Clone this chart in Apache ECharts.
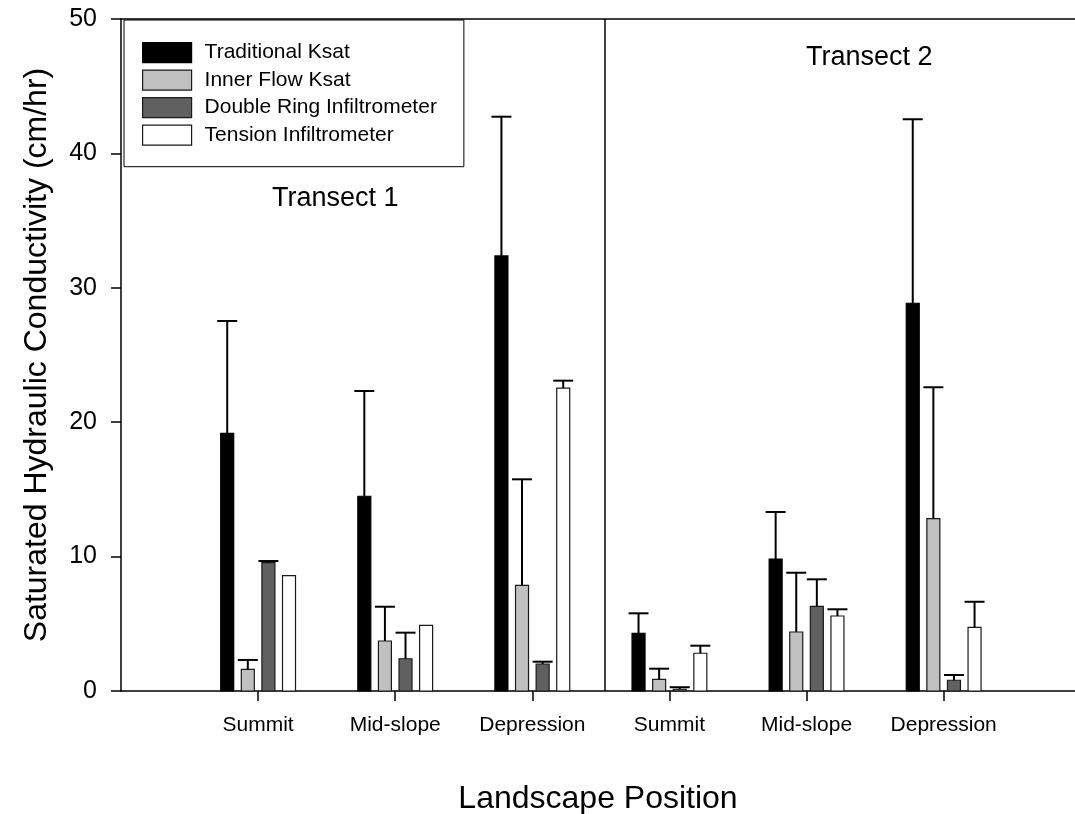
<!DOCTYPE html>
<html>
<head>
<meta charset="utf-8">
<script src="https://cdn.jsdelivr.net/npm/echarts@6/dist/echarts.min.js"></script>
<style>
  html, body { margin: 0; padding: 0; background: #fff; }
  #chart { width: 1075px; height: 814px; }
</style>
</head>
<body>
<div id="chart"></div>
<script>
// Landscape positions along the two transects (x positions 1..6)
const positions = [1, 2, 3, 4, 5, 6];
const positionLabels = ['Summit', 'Mid-slope', 'Depression', 'Summit', 'Mid-slope', 'Depression'];

// Mean saturated hydraulic conductivity (cm/hr)
const traditionalKsat = [19.17, 14.49, 32.37, 4.29, 9.82, 28.85];
const innerFlowKsat   = [1.61, 3.72, 7.86, 0.87, 4.39, 12.82];
const doubleRing      = [9.55, 2.40, 2.01, 0.13, 6.30, 0.80];
const tensionInf      = [8.58, 4.89, 22.54, 2.81, 5.58, 4.74];

// Upper error (standard deviation), cm/hr
const traditionalErr = [8.36, 7.83, 10.36, 1.49, 3.50, 13.69];
const innerFlowErr   = [0.70, 2.55, 7.89, 0.79, 4.41, 9.78];
const doubleRingErr  = [0.12, 1.94, 0.17, 0.15, 2.01, 0.39];
const tensionErr     = [0, 0, 0.55, 0.56, 0.50, 1.90];

const yTicks = [0, 10, 20, 30, 40, 50];
const transectDivide = 3.53;

const FONT = '"Liberation Sans", Arial, Helvetica, sans-serif';
const BAR_W = 13;
const BAR_PITCH = 20.6;
const CAP_W = 20;

function buildData(means, errs) {
  return positions.map((p, i) => [p, means[i], errs[i]]);
}

function makeRenderer(slot, fill, stroke) {
  return function (params, api) {
    const x = api.value(0);
    const mean = api.value(1);
    const err = api.value(2);
    const base = api.coord([x, 0]);
    const top = api.coord([x, mean]);
    const cx = base[0] + slot * BAR_PITCH;
    const children = [{
      type: 'rect',
      shape: { x: cx - BAR_W / 2, y: top[1], width: BAR_W, height: base[1] - top[1] },
      style: { fill: fill, stroke: stroke, lineWidth: 1.2 }
    }];
    if (err > 0) {
      const capY = api.coord([x, mean + err])[1];
      children.push({
        type: 'line',
        shape: { x1: cx, y1: top[1], x2: cx, y2: capY },
        style: { stroke: '#000', lineWidth: 2 }
      });
      children.push({
        type: 'line',
        shape: { x1: cx - CAP_W / 2, y1: capY, x2: cx + CAP_W / 2, y2: capY },
        style: { stroke: '#000', lineWidth: 2 }
      });
    }
    return { type: 'group', children: children };
  };
}

const seriesDefs = [
  { name: 'Traditional Ksat', means: traditionalKsat, errs: traditionalErr, fill: '#000000', stroke: '#000000', slot: -1.5 },
  { name: 'Inner Flow Ksat', means: innerFlowKsat, errs: innerFlowErr, fill: '#c0c0c0', stroke: '#1a1a1a', slot: -0.5 },
  { name: 'Double Ring Infiltrometer', means: doubleRing, errs: doubleRingErr, fill: '#606060', stroke: '#1a1a1a', slot: 0.5 },
  { name: 'Tension Infiltrometer', means: tensionInf, errs: tensionErr, fill: '#ffffff', stroke: '#1a1a1a', slot: 1.5 }
];

const series = seriesDefs.map((d, idx) => {
  const s = {
    name: d.name,
    type: 'custom',
    renderItem: makeRenderer(d.slot, d.fill, d.stroke),
    encode: { x: 0, y: 1 },
    itemStyle: { color: d.fill, borderColor: d.stroke, borderWidth: 1 },
    data: buildData(d.means, d.errs),
    clip: false,
    silent: true,
    z: 3
  };
  if (idx === 0) {
    // vertical rule separating transect 1 from transect 2
    s.markLine = {
      silent: true,
      symbol: ['none', 'none'],
      label: { show: false },
      lineStyle: { color: '#000', width: 1.5, type: 'solid' },
      data: [{ xAxis: transectDivide }]
    };
  }
  return s;
});

const chart = echarts.init(document.getElementById('chart'), null, { renderer: 'canvas' });

chart.setOption({
  animation: false,
  backgroundColor: '#ffffff',
  textStyle: { fontFamily: FONT, color: '#000' },
  grid: { left: 121, top: 19, right: 0, bottom: 123, containLabel: false, outerBoundsMode: 'none' },
  legend: {
    orient: 'vertical',
    left: 124,
    top: 20,
    itemWidth: 49,
    itemHeight: 20,
    itemGap: 6.3,
    padding: [22, 27, 21, 18],
    borderColor: '#000',
    borderWidth: 1,
    backgroundColor: '#fff',
    selectedMode: false,
    textStyle: { fontFamily: FONT, fontSize: 21, color: '#000', padding: [0, 0, 0, 8] },
    data: seriesDefs.map(d => ({
      name: d.name,
      icon: 'rect',
      itemStyle: { color: d.fill, borderColor: d.stroke, borderWidth: 1.2 }
    }))
  },
  xAxis: [{
    type: 'value',
    min: 0,
    max: 6.958,
    name: 'Landscape Position',
    nameLocation: 'middle',
    nameGap: 92,
    nameTextStyle: { fontFamily: FONT, fontSize: 32, color: '#000' },
    axisLine: { show: true, onZero: false, lineStyle: { color: '#000', width: 1.5 } },
    axisTick: { show: true, length: 10, inside: false, customValues: positions, lineStyle: { color: '#000', width: 1.5 } },
    axisLabel: {
      show: true,
      customValues: positions,
      margin: 24,
      fontFamily: FONT,
      fontSize: 21,
      color: '#000',
      formatter: v => positionLabels[Math.round(v) - 1] || ''
    },
    splitLine: { show: false }
  }, {
    type: 'value',
    position: 'top',
    min: 0,
    max: 6.958,
    axisLine: { show: true, onZero: false, lineStyle: { color: '#000', width: 1.5 } },
    axisTick: { show: false },
    axisLabel: { show: false },
    splitLine: { show: false }
  }],
  yAxis: {
    type: 'value',
    min: 0,
    max: 50,
    interval: 10,
    name: 'Saturated Hydraulic Conductivity (cm/hr)',
    nameLocation: 'middle',
    nameRotate: 90,
    nameGap: 68,
    nameTextStyle: { fontFamily: FONT, fontSize: 32, color: '#000' },
    axisLine: { show: true, lineStyle: { color: '#000', width: 1.5 } },
    axisTick: { show: true, length: 10, inside: false, lineStyle: { color: '#000', width: 1.5 } },
    axisLabel: {
      margin: 24,
      fontFamily: FONT,
      fontSize: 25,
      color: '#000',
      formatter: v => (yTicks.indexOf(v) >= 0 ? String(v) : '')
    },
    splitLine: { show: false }
  },
  graphic: [
    { type: 'text', left: 272, top: 185, style: { text: 'Transect 1', font: '27px ' + FONT, fill: '#000' } },
    { type: 'text', left: 806, top: 44, style: { text: 'Transect 2', font: '27px ' + FONT, fill: '#000' } }
  ],
  series: series
});
</script>
</body>
</html>
